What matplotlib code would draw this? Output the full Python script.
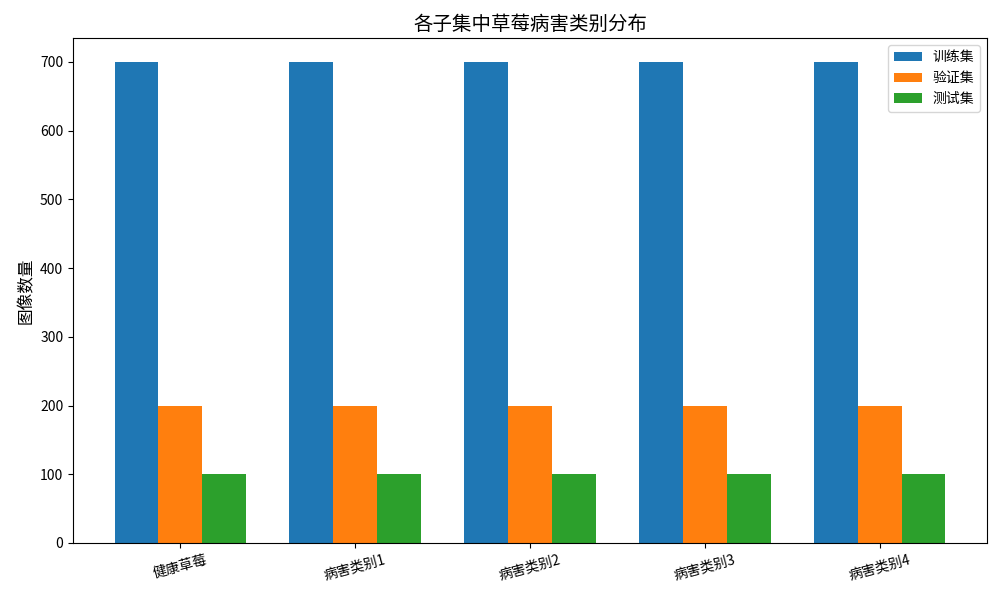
import numpy as np
import matplotlib
matplotlib.use("Agg")
import matplotlib.pyplot as plt

plt.rcParams['font.family'] = ['Noto Sans CJK SC', 'DejaVu Sans']
plt.rcParams['axes.unicode_minus'] = False

# data
categories = ["健康草莓", "病害类别1", "病害类别2", "病害类别3", "病害类别4"]
train_counts = [700, 700, 700, 700, 700]
val_counts = [200, 200, 200, 200, 200]
test_counts = [100, 100, 100, 100, 100]

x = np.arange(len(categories))
width = 0.25

fig, ax = plt.subplots(figsize=(10, 6), dpi=100)

ax.bar(x - width, train_counts, width, label="训练集")
ax.bar(x, val_counts, width, label="验证集")
ax.bar(x + width, test_counts, width, label="测试集")

ax.set_title("各子集中草莓病害类别分布", fontsize=14)
ax.set_ylabel("图像数量", fontsize=12)
ax.set_xticks(x)
ax.set_xticklabels(categories, rotation=15)
ax.legend(loc="upper right")

fig.subplots_adjust(left=0.073, right=0.987, top=0.937, bottom=0.095)
plt.savefig("out.png")
